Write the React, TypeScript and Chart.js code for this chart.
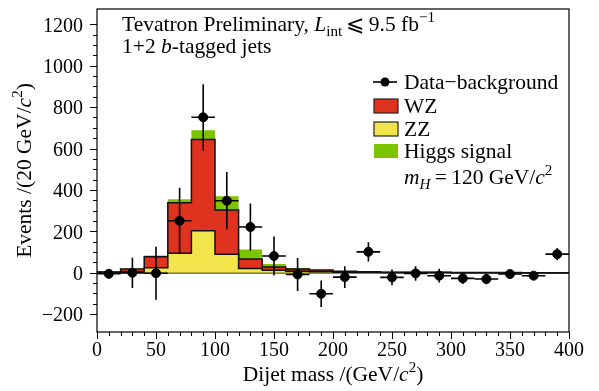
import React, { useEffect, useRef } from 'react';
import { Chart, registerables } from 'chart.js';

Chart.register(...registerables);

// ---- data ----
const binEdges = [0, 20, 40, 60, 80, 100, 120, 140, 160, 180, 200, 220, 240, 260, 280, 300, 320, 340, 360, 380, 400];
const binCenters = [10, 30, 50, 70, 90, 110, 130, 150, 170, 190, 210, 230, 250, 270, 290, 310, 330, 350, 370, 390];
const dataMinusBkg = [-5, 0, -2, 251, 751, 348, 221, 81, -8, -101, -21, 101, -22, -3, -14, -27, -30, -6, -14, 90];
const dataErr = [12, 73, 128, 160, 160, 139, 114, 94, 80, 64, 52, 47, 38, 35, 33, 27, 25, 20, 17, 30];
const zzVals = [2, 5, 24, 94, 203, 90, 21, 12, 8, 5, 3, 2, 1, 1, 1, 0, 0, 0, 0, 0];
const wzVals = [2, 13, 53, 244, 441, 213, 45, 16, 10, 8, 5, 3, 2, 1, 1, 1, 1, 1, 0, 0];
const higgsVals = [0, 2, 7, 17, 45, 67, 47, 14, 5, 1, 1, 1, 0, 0, 0, 0, 0, 0, 0, 0];
const xMajorTicks = [0, 50, 100, 150, 200, 250, 300, 350, 400];
const yMajorTicks = [-200, 0, 200, 400, 600, 800, 1000, 1200];
const binHalfWidth = 10;

const RED = '#E0331F';
const YELLOW = '#F2E44B';
const GREEN = '#7DC400';
const FAM = '"Liberation Serif", "Times New Roman", Times, serif';
const TXT = 21.5;

type Seg = { t: string; i?: boolean; sub?: boolean; sup?: boolean };

function drawRich(ctx: CanvasRenderingContext2D, segs: Seg[], x: number, y: number, size: number, align: 'left' | 'center') {
  const fontFor = (s: Seg) => `${s.i ? 'italic ' : ''}${s.sub || s.sup ? size * 0.7 : size}px ${FAM}`;
  let w = 0;
  for (const s of segs) {
    ctx.font = fontFor(s);
    w += ctx.measureText(s.t).width;
  }
  let cx = align === 'center' ? x - w / 2 : x;
  ctx.textAlign = 'left';
  ctx.textBaseline = 'alphabetic';
  for (const s of segs) {
    ctx.font = fontFor(s);
    const dy = s.sub ? size * 0.25 : s.sup ? -size * 0.42 : 0;
    ctx.fillText(s.t, cx, y + dy);
    cx += ctx.measureText(s.t).width;
  }
}

function steps(vals: number[]) {
  return binEdges.map((e, i) => ({ x: e, y: vals[Math.min(i, vals.length - 1)] }));
}

const zzTop = zzVals.map((v) => v);
const wzTop = zzVals.map((v, i) => v + wzVals[i]);
const hTop = wzTop.map((v, i) => v + higgsVals[i]);

const decorPlugin = {
  id: 'decor',
  beforeDatasetsDraw(chart: any) {
    const { ctx, chartArea, scales } = chart;
    const y0 = scales.y.getPixelForValue(0);
    ctx.save();
    ctx.strokeStyle = '#000';
    ctx.lineWidth = 1.5;
    ctx.beginPath();
    ctx.moveTo(chartArea.left, y0);
    ctx.lineTo(chartArea.right, y0);
    ctx.stroke();
    ctx.restore();
  },
  afterDatasetsDraw(chart: any) {
    const { ctx, scales } = chart;
    const xs = scales.x;
    const ys = scales.y;
    ctx.save();
    ctx.strokeStyle = '#000';
    ctx.lineWidth = 1.6;
    binCenters.forEach((c, i) => {
      const v = dataMinusBkg[i];
      const e = dataErr[i];
      const px = xs.getPixelForValue(c);
      const py = ys.getPixelForValue(v);
      ctx.beginPath();
      ctx.moveTo(xs.getPixelForValue(c - binHalfWidth), py);
      ctx.lineTo(xs.getPixelForValue(c + binHalfWidth), py);
      ctx.moveTo(px, ys.getPixelForValue(v + e));
      ctx.lineTo(px, ys.getPixelForValue(v - e));
      ctx.stroke();
    });
    ctx.restore();
  },
  afterDraw(chart: any) {
    const { ctx, chartArea, scales } = chart;
    const { left, right, top, bottom } = chartArea;
    ctx.save();
    // frame
    ctx.strokeStyle = '#000';
    ctx.lineWidth = 1.2;
    ctx.strokeRect(left, top, right - left, bottom - top);
    // ticks
    ctx.lineWidth = 1;
    ctx.beginPath();
    scales.x.ticks.forEach((t: any) => {
      if (Math.abs(t.value % 10) > 1e-6) return;
      const px = Math.round(scales.x.getPixelForValue(t.value)) + 0.5;
      const len = xMajorTicks.includes(t.value) ? 7 : 4;
      ctx.moveTo(px, bottom);
      ctx.lineTo(px, bottom + len);
    });
    scales.y.ticks.forEach((t: any) => {
      if (Math.abs(t.value % 50) > 1e-6) return;
      const py = Math.round(scales.y.getPixelForValue(t.value)) + 0.5;
      const len = yMajorTicks.includes(t.value) ? 7 : 4;
      ctx.moveTo(left, py);
      ctx.lineTo(left - len, py);
    });
    ctx.stroke();

    ctx.fillStyle = '#000';
    // header text
    drawRich(ctx, [
      { t: 'Tevatron Preliminary, ' },
      { t: 'L', i: true },
      { t: 'int', sub: true },
      { t: '\u2009\u2A7D\u20099.5 fb' },
      { t: '\u22121', sup: true },
    ], 122, 31, TXT, 'left');
    drawRich(ctx, [{ t: '1+2 ' }, { t: 'b', i: true }, { t: '-tagged jets' }], 122, 53, TXT, 'left');

    // legend
    const lx = 373;
    const tx = 404;
    ctx.strokeStyle = '#000';
    ctx.lineWidth = 1.6;
    ctx.beginPath();
    ctx.moveTo(lx, 82);
    ctx.lineTo(lx + 24, 82);
    ctx.stroke();
    ctx.beginPath();
    ctx.arc(lx + 12, 82, 4.5, 0, Math.PI * 2);
    ctx.fill();
    drawRich(ctx, [{ t: 'Data\u2212background' }], tx, 89, TXT, 'left');

    const boxes: [string, boolean, number, string][] = [
      [RED, true, 99, 'WZ'],
      [YELLOW, true, 122, 'ZZ'],
      [GREEN, false, 144, 'Higgs signal'],
    ];
    boxes.forEach(([col, outline, by, label]) => {
      ctx.fillStyle = col;
      ctx.fillRect(lx + 1, by, 24, 14);
      if (outline) {
        ctx.strokeStyle = '#222';
        ctx.lineWidth = 1.2;
        ctx.strokeRect(lx + 1, by, 24, 14);
      }
      ctx.fillStyle = '#000';
      drawRich(ctx, [{ t: label }], tx, by + 14, TXT, 'left');
    });
    drawRich(ctx, [
      { t: 'm', i: true },
      { t: 'H', i: true, sub: true },
      { t: '\u2009=\u2009120 GeV/' },
      { t: 'c', i: true },
      { t: '2', sup: true },
    ], tx, 184, TXT, 'left');

    // axis titles
    drawRich(ctx, [{ t: 'Dijet mass /(GeV/' }, { t: 'c', i: true }, { t: '2', sup: true }, { t: ')' }], (left + right) / 2, 381, TXT, 'center');
    ctx.save();
    ctx.translate(31, (top + bottom) / 2);
    ctx.rotate(-Math.PI / 2);
    drawRich(ctx, [{ t: 'Events /(20 GeV/' }, { t: 'c', i: true }, { t: '2', sup: true }, { t: ')' }], 0, 0, TXT, 'center');
    ctx.restore();
    ctx.restore();
  },
};

export default function App() {
  const ref = useRef<HTMLCanvasElement | null>(null);
  useEffect(() => {
    document.body.style.margin = '0';
    if (!ref.current) return;
    const histBase = {
      type: 'line' as const,
      stepped: 'before' as const,
      pointRadius: 0,
      pointHoverRadius: 0,
      tension: 0,
    };
    const chart = new Chart(ref.current, {
      type: 'line',
      data: {
        datasets: [
          {
            label: 'Data\u2212background',
            data: binCenters.map((c, i) => ({ x: c, y: dataMinusBkg[i] })),
            showLine: false,
            pointRadius: 4.5,
            pointBackgroundColor: '#000',
            pointBorderColor: '#000',
            borderColor: '#000',
            order: 0,
          },
          {
            ...histBase,
            label: 'ZZ',
            data: steps(zzTop),
            fill: 'origin',
            backgroundColor: YELLOW,
            borderColor: '#111',
            borderWidth: 1.5,
            order: 1,
          },
          {
            ...histBase,
            label: 'WZ',
            data: steps(wzTop),
            fill: { target: 1 },
            backgroundColor: RED,
            borderColor: '#111',
            borderWidth: 1.5,
            order: 2,
          },
          {
            ...histBase,
            label: 'Higgs signal',
            data: steps(hTop),
            fill: { target: 2 },
            backgroundColor: GREEN,
            borderColor: GREEN,
            borderWidth: 0,
            order: 3,
          },
        ] as any,
      },
      options: {
        animation: false,
        responsive: false,
        devicePixelRatio: 1,
        events: [],
        layout: { padding: { left: 0, right: 30, top: 9, bottom: 0 } },
        plugins: {
          legend: { display: false },
          tooltip: { enabled: false },
          title: { display: false },
        },
        scales: {
          x: {
            type: 'linear',
            min: 0,
            max: 400,
            grid: { display: false, drawTicks: false },
            border: { display: false },
            ticks: {
              stepSize: 10,
              autoSkip: false,
              maxRotation: 0,
              padding: 7,
              color: '#000',
              font: { family: FAM, size: 20 },
              callback: (v: any) => (xMajorTicks.includes(Number(v)) ? String(v) : ''),
            },
            afterFit: (s: any) => {
              s.height = 59;
              s.paddingLeft = 0;
              s.paddingRight = 0;
            },
          },
          y: {
            type: 'linear',
            min: -286,
            max: 1274,
            grid: { display: false, drawTicks: false },
            border: { display: false },
            ticks: {
              stepSize: 50,
              autoSkip: false,
              padding: 14,
              labelOffset: 2,
              color: '#000',
              font: { family: FAM, size: 20 },
              callback: (v: any) => {
                const n = Number(v);
                if (!yMajorTicks.includes(n)) return '';
                return n < 0 ? '\u2212' + String(-n) : String(n);
              },
            },
            afterFit: (s: any) => {
              s.width = 97;
              s.paddingTop = 0;
              s.paddingBottom = 0;
            },
          },
        },
      } as any,
      plugins: [decorPlugin],
    });
    return () => chart.destroy();
  }, []);
  return (
    <div style={{ width: 599, height: 391, position: 'relative' }}>
      <canvas ref={ref} width={599} height={391} style={{ width: 599, height: 391, display: 'block' }} />
    </div>
  );
}
